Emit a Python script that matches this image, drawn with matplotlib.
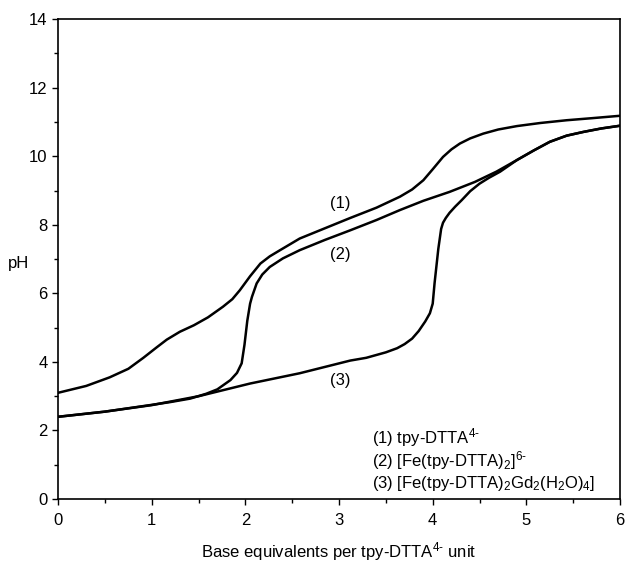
import matplotlib
matplotlib.use('Agg')
import matplotlib.pyplot as plt
from matplotlib.ticker import MultipleLocator

plt.rcParams['font.family'] = ['Liberation Sans', 'DejaVu Sans']
plt.rcParams['mathtext.fontset'] = 'custom'
plt.rcParams['mathtext.rm'] = 'Liberation Sans'
plt.rcParams['mathtext.it'] = 'Liberation Sans'
plt.rcParams['mathtext.default'] = 'regular'

# (1) tpy-DTTA4-
x1 = [0, 0.3, 0.55, 0.75, 0.91, 1.05, 1.16, 1.3, 1.45, 1.6, 1.76, 1.86, 1.94, 2.05, 2.16,
      2.26, 2.37, 2.58, 2.85, 3.12, 3.4, 3.65, 3.78, 3.9, 4.0, 4.11, 4.2, 4.29,
      4.4, 4.54, 4.7, 4.9, 5.15, 5.43, 5.7, 6.0]
y1 = [3.1, 3.3, 3.55, 3.8, 4.12, 4.42, 4.65, 4.88, 5.07, 5.3, 5.61, 5.83, 6.09, 6.5, 6.87,
      7.08, 7.26, 7.6, 7.9, 8.2, 8.5, 8.82, 9.03, 9.3, 9.62, 9.98, 10.2, 10.37,
      10.52, 10.66, 10.78, 10.88, 10.97, 11.05, 11.11, 11.18]

# (2) [Fe(tpy-DTTA)2]6-
x2 = [0, 0.5, 0.98, 1.2, 1.41, 1.58, 1.7, 1.84, 1.91, 1.96, 1.99, 2.02, 2.05, 2.07, 2.12,
      2.18, 2.26, 2.4, 2.58, 2.85, 3.12, 3.4, 3.65, 3.9, 4.18, 4.45, 4.68, 4.9, 5.08, 5.25,
      5.43, 5.61, 5.8, 6.0]
y2 = [2.4, 2.55, 2.74, 2.83, 2.93, 3.07, 3.2, 3.47, 3.68, 3.96, 4.5, 5.2, 5.7, 5.9, 6.29,
      6.55, 6.77, 7.02, 7.26, 7.56, 7.84, 8.14, 8.43, 8.7, 8.96, 9.25, 9.55, 9.89, 10.17, 10.42,
      10.6, 10.71, 10.81, 10.89]

# (3) [Fe(tpy-DTTA)2Gd2(H2O)4]
x3 = [0, 0.5, 1.0, 1.5, 2.05, 2.58, 3.12, 3.29, 3.5, 3.62, 3.7, 3.78, 3.85, 3.92, 3.97,
      4.0, 4.02, 4.06, 4.09, 4.11, 4.14, 4.18, 4.24, 4.31, 4.4, 4.5, 4.6, 4.72, 4.9, 5.08,
      5.25, 5.43, 5.61, 5.8, 6.0]
y3 = [2.4, 2.55, 2.74, 3.0, 3.37, 3.67, 4.04, 4.12, 4.28, 4.4, 4.52, 4.68, 4.9, 5.18, 5.42,
      5.7, 6.3, 7.3, 7.88, 8.06, 8.2, 8.35, 8.53, 8.72, 8.98, 9.2, 9.37, 9.55, 9.89, 10.17,
      10.42, 10.6, 10.71, 10.81, 10.89]

curve_labels = ['(1)', '(2)', '(3)']
label_pos = [(3.01, 8.63), (3.01, 7.14), (3.01, 3.47)]

legend_lines = [
    r'(1) tpy-DTTA$^{4\text{-}}$',
    r'(2) [Fe(tpy-DTTA)$_2$]$^{6\text{-}}$',
    r'(3) [Fe(tpy-DTTA)$_2$Gd$_2$(H$_2$O)$_4$]',
]

fig = plt.figure(figsize=(6.25, 5.62), dpi=100)
ax = fig.add_axes([0.093, 0.112, 0.899, 0.854])

for xs, ys in [(x1, y1), (x2, y2), (x3, y3)]:
    ax.plot(xs, ys, color='black', linewidth=1.8, solid_joinstyle='round')

for lab, (lx, ly) in zip(curve_labels, label_pos):
    ax.text(lx, ly, lab, fontsize=12, ha='center', va='center')

for i, line in enumerate(legend_lines):
    ax.text(3.35, 1.8 - i * 0.67, line, fontsize=12, ha='left', va='center')

ax.set_xlim(0, 6)
ax.set_ylim(0, 14)
ax.xaxis.set_major_locator(MultipleLocator(1))
ax.xaxis.set_minor_locator(MultipleLocator(0.5))
ax.yaxis.set_major_locator(MultipleLocator(2))
ax.yaxis.set_minor_locator(MultipleLocator(1))
ax.tick_params(which='both', direction='out', labelsize=12, width=1)
ax.tick_params(which='major', length=4)
ax.tick_params(which='minor', length=3)
ax.tick_params(axis='x', pad=6)

for sp in ax.spines.values():
    sp.set_linewidth(1.2)

ax.set_ylabel('pH', fontsize=12, rotation=0, va='center')
ax.yaxis.set_label_coords(-0.07, 0.49)
ax.set_xlabel(r'Base equivalents per tpy-DTTA$^{4\text{-}}$ unit', fontsize=12, va='center')
ax.xaxis.set_label_coords(0.5, -0.11)

fig.savefig('out.png', dpi=100)
